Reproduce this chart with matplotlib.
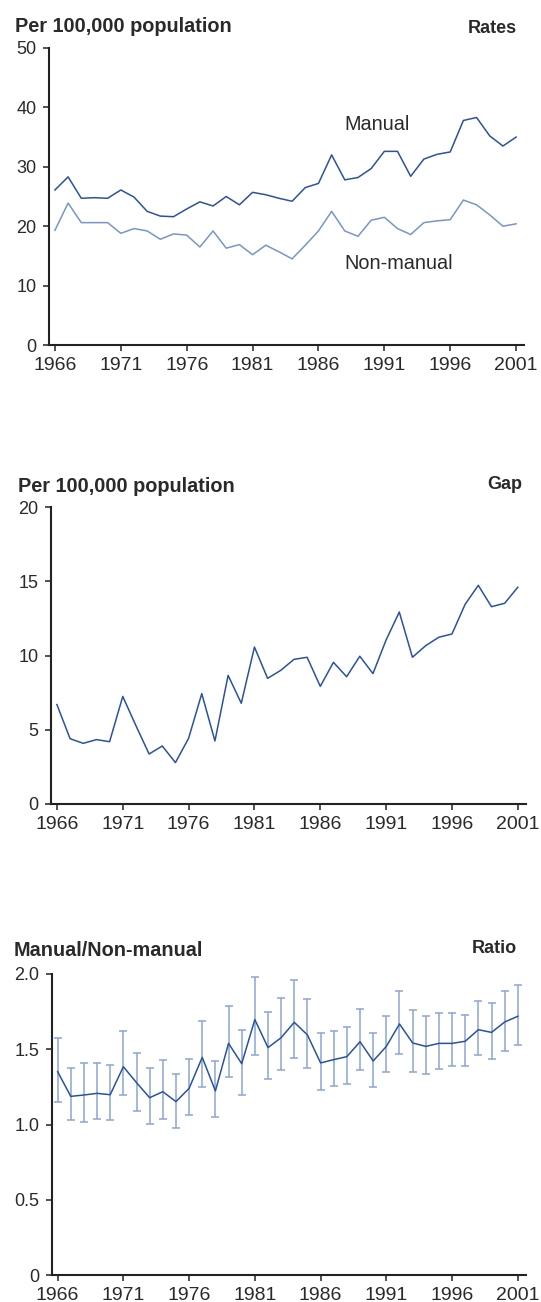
import matplotlib
matplotlib.use("Agg")
import matplotlib.pyplot as plt

plt.rcParams['font.family'] = ['Liberation Sans', 'DejaVu Sans']

years = list(range(1966, 2002))

manual = [26.1, 28.3, 24.7, 24.8, 24.7, 26.1, 24.9, 22.5, 21.7, 21.6,
          22.9, 24.1, 23.4, 25.0, 23.6, 25.7, 25.3, 24.7, 24.2, 26.5,
          27.2, 32.0, 27.8, 28.2, 29.7, 32.6, 32.6, 28.4, 31.3, 32.1,
          32.5, 37.8, 38.3, 35.2, 33.5, 35.0]
non_manual = [19.3, 23.9, 20.6, 20.6, 20.6, 18.8, 19.6, 19.2, 17.8, 18.7,
              18.5, 16.5, 19.2, 16.3, 16.9, 15.2, 16.8, 15.7, 14.5, 16.8,
              19.2, 22.5, 19.2, 18.3, 21.0, 21.5, 19.6, 18.6, 20.6, 20.9,
              21.1, 24.4, 23.6, 21.9, 20.0, 20.4]
gap = [6.70, 4.40, 4.09, 4.34, 4.20, 7.25, 5.28, 3.37, 3.91, 2.79,
       4.43, 7.44, 4.25, 8.67, 6.79, 10.58, 8.47, 9.01, 9.75, 9.89,
       7.93, 9.55, 8.58, 9.96, 8.79, 11.06, 12.94, 9.89, 10.67, 11.24,
       11.46, 13.46, 14.74, 13.30, 13.53, 14.61]
ratio = [1.351, 1.187, 1.196, 1.207, 1.198, 1.384, 1.278, 1.178, 1.218, 1.152,
         1.240, 1.446, 1.223, 1.539, 1.404, 1.697, 1.511, 1.577, 1.679, 1.595,
         1.409, 1.431, 1.451, 1.550, 1.422, 1.519, 1.668, 1.542, 1.519, 1.539,
         1.539, 1.553, 1.630, 1.612, 1.681, 1.719]
ratio_hi = [1.577, 1.378, 1.409, 1.409, 1.398, 1.619, 1.477, 1.378, 1.431, 1.338,
            1.437, 1.690, 1.420, 1.790, 1.630, 1.982, 1.750, 1.840, 1.958, 1.832,
            1.610, 1.619, 1.650, 1.770, 1.610, 1.719, 1.889, 1.761, 1.719, 1.741,
            1.741, 1.730, 1.821, 1.810, 1.889, 1.929]
ratio_lo = [1.149, 1.028, 1.017, 1.039, 1.028, 1.198, 1.087, 1.006, 1.039, 0.979,
            1.061, 1.249, 1.050, 1.318, 1.198, 1.460, 1.300, 1.362, 1.440, 1.378,
            1.229, 1.258, 1.269, 1.360, 1.249, 1.349, 1.466, 1.351, 1.338, 1.369,
            1.386, 1.386, 1.460, 1.437, 1.491, 1.528]

xticks = [1966, 1971, 1976, 1981, 1986, 1991, 1996, 2001]

DARK = '#2b52a0'
LIGHT = '#7895cb'
ERR = '#8ba5d6'
TXT = '#2a2a2a'

W, H = 541, 1302
fig = plt.figure(figsize=(W / 100, H / 100), dpi=100)


def px_axes(left, right, top, bottom):
    return fig.add_axes([left / W, 1 - bottom / H, (right - left) / W, (bottom - top) / H])


def style(ax, ylim, yticks, ylabels):
    ax.set_xlim(1965.55, 2001.6)
    ax.set_ylim(*ylim)
    ax.set_xticks(xticks)
    ax.set_xticklabels([str(x) for x in xticks])
    ax.set_yticks(yticks)
    ax.set_yticklabels(ylabels)
    for s in ['top', 'right']:
        ax.spines[s].set_visible(False)
    for s in ['left', 'bottom']:
        ax.spines[s].set_linewidth(1.5)
        ax.spines[s].set_color('#222222')
    ax.tick_params(axis='x', labelsize=14, length=4, width=1.1, pad=4.5,
                   color='#222222', labelcolor=TXT)
    ax.tick_params(axis='y', labelsize=13, length=4, width=1.1, pad=5,
                   color='#222222', labelcolor=TXT)


# Rates
ax1 = px_axes(49, 524, 48, 345)
ax1.plot(years, manual, color=DARK, lw=1.1)
ax1.plot(years, non_manual, color=LIGHT, lw=1.1)
style(ax1, (0, 50), [0, 10, 20, 30, 40, 50], ['0', '10', '20', '30', '40', '50'])
ax1.text(1987.94, 36.25, 'Manual', fontsize=14.3, color=TXT, va='baseline')
ax1.text(1987.94, 12.72, 'Non-manual', fontsize=14.3, color=TXT, va='baseline')
fig.text(15 / W, 1 - 31.7 / H, 'Per 100,000 population', fontsize=14.3,
         fontweight='bold', color=TXT, va='baseline')
fig.text(517 / W, 1 - 33 / H, 'Rates', fontsize=13, fontweight='bold',
         color=TXT, va='baseline', ha='right')

# Gap
ax2 = px_axes(51, 525.7, 507.3, 804)
ax2.plot(years, gap, color=DARK, lw=1.1)
style(ax2, (0, 20), [0, 5, 10, 15, 20], ['0', '5', '10', '15', '20'])
fig.text(18 / W, 1 - 491.7 / H, 'Per 100,000 population', fontsize=14.3,
         fontweight='bold', color=TXT, va='baseline')
fig.text(522 / W, 1 - 489 / H, 'Gap', fontsize=13, fontweight='bold',
         color=TXT, va='baseline', ha='right')

# Ratio
ax3 = px_axes(51.7, 525.7, 974, 1275)
err_lo = [r - lo for r, lo in zip(ratio, ratio_lo)]
err_hi = [hi - r for r, hi in zip(ratio, ratio_hi)]
ax3.errorbar(years, ratio, yerr=[err_lo, err_hi], fmt='none', ecolor=ERR,
             elinewidth=1.1, capsize=2.6, capthick=1.1)
ax3.plot(years, ratio, color=DARK, lw=1.1)
style(ax3, (0, 2.0), [0, 0.5, 1.0, 1.5, 2.0], ['0', '0.5', '1.0', '1.5', '2.0'])
fig.text(14 / W, 1 - 956 / H, 'Manual/Non-manual', fontsize=14.3,
         fontweight='bold', color=TXT, va='baseline')
fig.text(517 / W, 1 - 953 / H, 'Ratio', fontsize=13, fontweight='bold',
         color=TXT, va='baseline', ha='right')

fig.savefig('out.png', dpi=100)
